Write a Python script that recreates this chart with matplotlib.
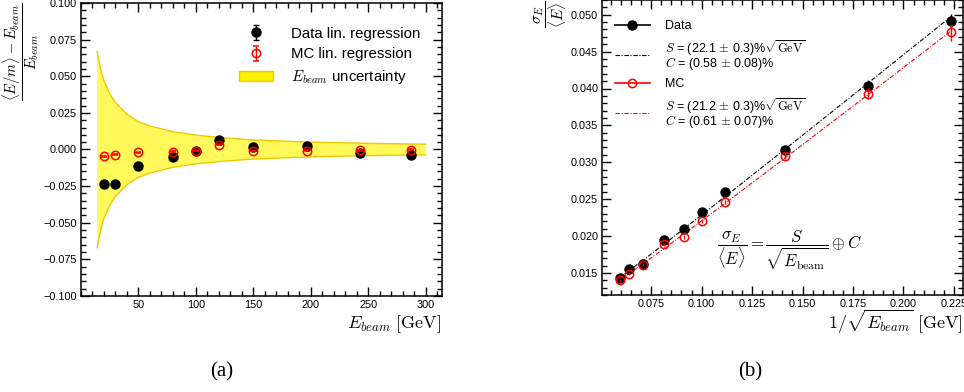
import numpy as np
import matplotlib
matplotlib.use("Agg")
import matplotlib.pyplot as plt
from matplotlib.lines import Line2D
from matplotlib.patches import Patch
from matplotlib.ticker import MultipleLocator

plt.rcParams['font.family'] = ['Liberation Sans', 'DejaVu Sans']
plt.rcParams['mathtext.fontset'] = 'cm'

# ---------- panel (a) data ----------
beam_E = [20, 30, 50, 80, 100, 120, 150, 197, 243, 287]
data_lin = [-0.0235, -0.0235, -0.0110, -0.0048, -0.0010, 0.0066, 0.0019, 0.0022, -0.0025, -0.0035]
data_lin_err = [0.0006, 0.0006, 0.0005, 0.0004, 0.0004, 0.0004, 0.0003, 0.0003, 0.0003, 0.0003]
mc_lin = [-0.0046, -0.0036, -0.0020, -0.0014, -0.0009, 0.0034, -0.0010, -0.0008, -0.0005, -0.0002]
mc_lin_err = [0.0004, 0.0004, 0.0003, 0.0003, 0.0003, 0.0003, 0.0003, 0.0003, 0.0003, 0.0003]
band_E = [14, 16, 18, 20, 25, 30, 40, 50, 60, 80, 100, 125, 150, 200, 250, 300]
band_hw = [0.067, 0.059, 0.052, 0.047, 0.038, 0.032, 0.024, 0.019, 0.016, 0.0122,
           0.0098, 0.0079, 0.0065, 0.0050, 0.0042, 0.0036]

# ---------- panel (b) data ----------
inv_sqrtE = [0.2236, 0.1826, 0.1414, 0.1118, 0.1000, 0.0913, 0.0816, 0.0712, 0.0641, 0.0594]
data_res = [0.0491, 0.0404, 0.0316, 0.0260, 0.0233, 0.0209, 0.0194, 0.0162, 0.0155, 0.0143]
data_res_err = [0.0010, 0.0007, 0.0005, 0.0003, 0.0003, 0.0003, 0.0002, 0.0002, 0.0002, 0.0002]
mc_res = [0.0476, 0.0393, 0.0309, 0.0246, 0.0220, 0.0199, 0.0189, 0.0161, 0.0149, 0.0140]
mc_res_err = [0.0011, 0.0007, 0.0005, 0.0003, 0.0003, 0.0003, 0.0002, 0.0002, 0.0002, 0.0002]
fit_data_S, fit_data_C = 0.221, 0.0058
fit_mc_S, fit_mc_C = 0.212, 0.0061

W, H = 964, 392
fig = plt.figure(figsize=(W / 100, H / 100), dpi=100)

def style_axes(ax):
    for s in ax.spines.values():
        s.set_linewidth(1.1)
    ax.tick_params(which='both', direction='in', top=True, right=True, labelsize=7.8,
                   width=1.0, pad=3)
    ax.tick_params(which='major', length=6.5)
    ax.tick_params(which='minor', length=3.3)

def minus(ax):
    ax.yaxis.set_major_formatter(matplotlib.ticker.FuncFormatter(
        lambda v, p: ('%.3f' % v).replace('-', '\u2212') if abs(v) > 1e-9 else '0.000'))

# ---------- panel (a) ----------
axa = fig.add_axes([81 / W, 1 - 296 / H, 360.7 / W, 293 / H])
style_axes(axa)
bE = np.array(band_E)
bh = np.array(band_hw)
axa.fill_between(bE, -bh, bh, facecolor='#fff95c', edgecolor='none', zorder=1)
axa.plot(bE, bh, color='#f2c800', lw=1.0, zorder=1.5)
axa.plot(bE, -bh, color='#f2c800', lw=1.0, zorder=1.5)
axa.errorbar(beam_E, data_lin, yerr=data_lin_err, fmt='o', color='black', ms=6.5,
             capsize=2, elinewidth=1.0, zorder=3, label='Data lin. regression')
axa.errorbar(beam_E, mc_lin, yerr=mc_lin_err, fmt='o', color='red', mfc='none', mec='red',
             ms=6, mew=1.1, capsize=2, elinewidth=1.0, zorder=4, label='MC lin. regression')
band_patch = Patch(facecolor='#fff200', edgecolor='#f2c800', lw=1.0,
                   label=r'$E_{beam}$ uncertainty')
h, l = axa.get_legend_handles_labels()
axa.legend(h + [band_patch], l + [band_patch.get_label()], loc='upper right',
           frameon=False, fontsize=10.8, bbox_to_anchor=(0.97, 0.955),
           handlelength=2.3, handletextpad=1.2, labelspacing=0.45, borderaxespad=0.3)
axa.set_xlim(0, 314)
axa.set_ylim(-0.1, 0.1)
axa.xaxis.set_major_locator(MultipleLocator(50))
axa.xaxis.set_minor_locator(MultipleLocator(10))
axa.yaxis.set_major_locator(MultipleLocator(0.025))
axa.yaxis.set_minor_locator(MultipleLocator(0.005))
axa.set_xticks([50, 100, 150, 200, 250, 300])
minus(axa)
axa.set_xlabel(r'$E_{beam}\ [\mathrm{GeV}]$', fontsize=13, loc='right', labelpad=2)
axa.set_ylabel(r'$\dfrac{\langle E/m\rangle - E_{beam}}{E_{beam}}$', fontsize=10.5, loc='top',
               labelpad=2)

# ---------- panel (b) ----------
axb = fig.add_axes([602.3 / W, 1 - 295 / H, 360.7 / W, 295 / H])
style_axes(axb)
xs = np.array(inv_sqrtE)
xf = np.array(sorted(xs))
axb.plot(xf, np.hypot(fit_data_S * xf, fit_data_C), color='black', lw=0.8,
         dashes=[4, 1.5, 1, 1.5], zorder=2)
axb.plot(xf, np.hypot(fit_mc_S * xf, fit_mc_C), color='red', lw=0.8,
         dashes=[4, 1.5, 1, 1.5], zorder=2)
axb.errorbar(inv_sqrtE, data_res, yerr=data_res_err, fmt='o', color='black', ms=6.5,
             capsize=0, elinewidth=1.0, zorder=3)
axb.errorbar(inv_sqrtE, mc_res, yerr=mc_res_err, fmt='o', color='red', mfc='none', mec='red',
             ms=6, mew=1.1, capsize=0, elinewidth=1.0, zorder=4)
handles = [
    Line2D([], [], color='black', marker='o', ms=6.5, lw=1.2),
    Line2D([], [], color='black', lw=0.8, dashes=[4, 1.5, 1, 1.5]),
    Line2D([], [], color='red', marker='o', ms=6, mfc='none', mew=1.1, lw=1.2),
    Line2D([], [], color='red', lw=0.8, dashes=[4, 1.5, 1, 1.5]),
]
labels = [
    'Data',
    '$S$ = (22.1 $\\pm$ 0.3)%$\\sqrt{\\mathrm{GeV}}$\n$C$ = (0.58 $\\pm$ 0.08)%',
    'MC',
    '$S$ = (21.2 $\\pm$ 0.3)%$\\sqrt{\\mathrm{GeV}}$\n$C$ = (0.61 $\\pm$ 0.07)%',
]
leg = axb.legend(handles, labels, loc='upper left', frameon=False, fontsize=9.0,
                 bbox_to_anchor=(0.0, 0.975), handlelength=2.8, handletextpad=1.2,
                 labelspacing=0.5, borderaxespad=0.6)
for t in leg.get_texts():
    t.set_linespacing(0.75)
axb.set_xlim(0.0508, 0.2295)
axb.set_ylim(0.012, 0.052)
axb.xaxis.set_major_locator(MultipleLocator(0.025))
axb.xaxis.set_minor_locator(MultipleLocator(0.005))
axb.yaxis.set_major_locator(MultipleLocator(0.005))
axb.yaxis.set_minor_locator(MultipleLocator(0.001))
axb.xaxis.set_major_formatter(matplotlib.ticker.FormatStrFormatter('%.3f'))
axb.yaxis.set_major_formatter(matplotlib.ticker.FormatStrFormatter('%.3f'))
axb.text(0.1434, 0.0181,
         r'$\dfrac{\sigma_E}{\langle E\rangle} = \dfrac{S}{\sqrt{E_{\mathrm{beam}}}} \oplus C$',
         fontsize=12, ha='center', va='center')
axb.set_xlabel(r'$1/\sqrt{E_{beam}}\ [\mathrm{GeV}]$', fontsize=13, loc='right', labelpad=-1)
axb.set_ylabel(r'$\dfrac{\sigma_E}{\langle E\rangle}$', fontsize=11, loc='top', labelpad=1)

# captions
fig.text(222 / W, 1 - 372 / H, '(a)', family='Liberation Serif', fontsize=15,
         ha='center', va='center')
fig.text(750 / W, 1 - 372 / H, '(b)', family='Liberation Serif', fontsize=15,
         ha='center', va='center')

fig.savefig('out.png', dpi=100)
